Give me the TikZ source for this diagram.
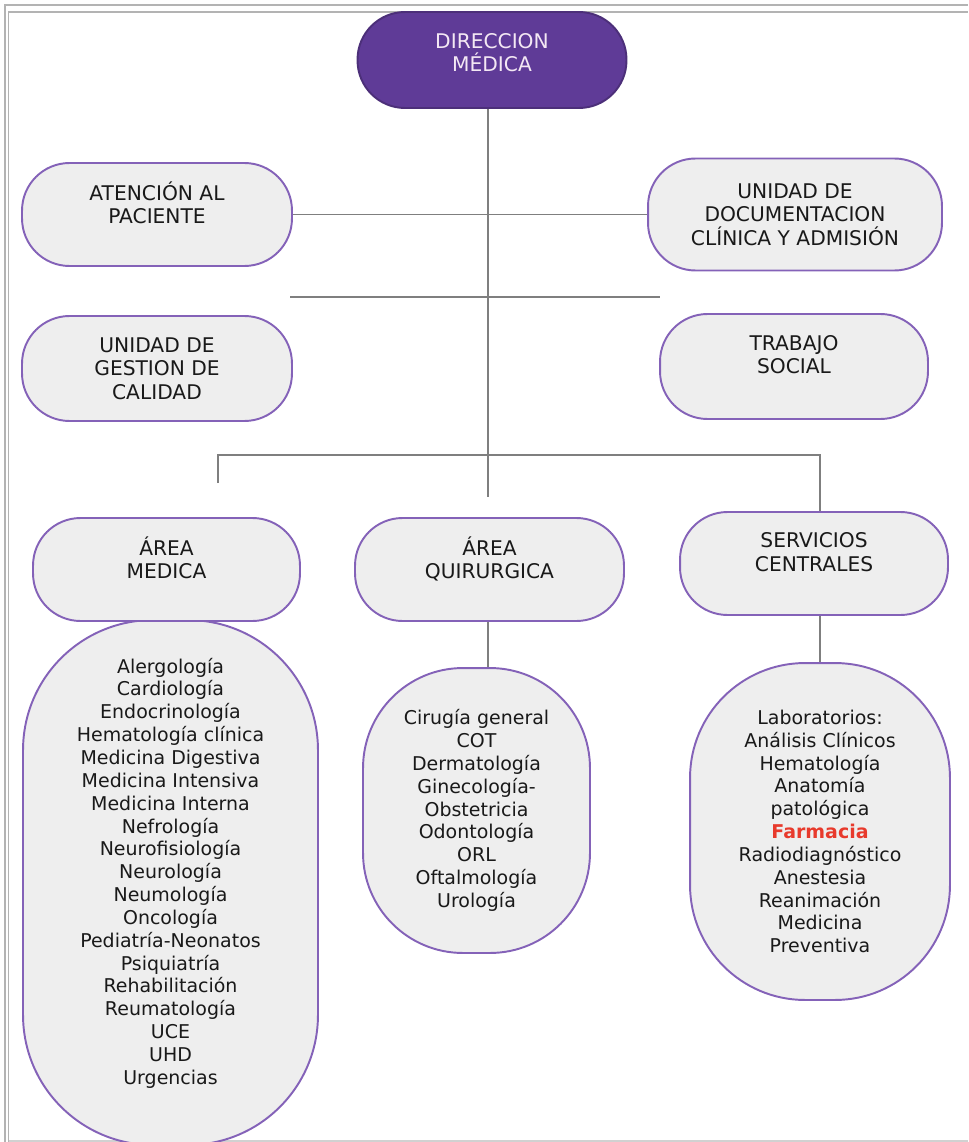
\documentclass[tikz,border=0pt]{standalone}
\usepackage{fontspec}
\setmainfont{DejaVu Sans}
\definecolor{boxline}{HTML}{8462B8}
\definecolor{boxfill}{HTML}{EEEEEE}
\definecolor{dirfill}{HTML}{5F3B97}
\definecolor{dirtext}{HTML}{F4E8F4}
\definecolor{linkgray}{HTML}{7F7F7F}
\definecolor{framegray}{HTML}{B3B3B3}
\definecolor{farmred}{HTML}{E83A2C}
\begin{document}
\begin{tikzpicture}[x=0.02cm, y=-0.02cm,
        unitbox/.style={draw=boxline, fill=boxfill, line width=1.1pt, rounded corners=0.95cm,
            align=center, inner sep=0pt, text=black!90, font=\fontsize{11.5}{13.5}\selectfont},
        listbox/.style={draw=boxline, fill=boxfill, line width=1.1pt,
            align=center, inner sep=0pt, text=black!90, font=\fontsize{10.8}{13}\selectfont},
        link/.style={draw=linkgray, line width=1.1pt}]
        \useasboundingbox (0,0) rectangle (968,1142);

        \coordinate (TL) at (290,297);
        \coordinate (TR) at (660,297);
        \coordinate (JL) at (218,455);
        \coordinate (JLs) at (218,483);
        \coordinate (JC) at (488,455);
        \coordinate (JCe) at (488,497);
        \coordinate (JR) at (820,455);

        \draw[framegray, line width=1.4pt] (5,1142) -- (5,5) -- (968,5);
        \draw[framegray, line width=0.6pt] (8.5,1142) -- (8.5,12) -- (968,12);
        \draw[framegray!60, line width=0.6pt] (8.5,1141) -- (968,1141);

        \node[unitbox, fill=dirfill, draw=dirfill!80!black, text=dirtext, rounded corners=0.95cm,
            minimum width=5.38cm, minimum height=1.92cm] (dir) at (492,60) {DIRECCION\\MÉDICA\\[-5pt]~};

        \node[unitbox, minimum width=5.4cm, minimum height=2.06cm] (aten) at (157,214.5) {ATENCIÓN AL\\PACIENTE\\~};
        \node[unitbox, minimum width=5.88cm, minimum height=2.24cm] (udoc) at (795,214.5) {UNIDAD DE\\DOCUMENTACION\\CLÍNICA Y ADMISIÓN};
        \node[unitbox, minimum width=5.4cm, minimum height=2.1cm] (ugc) at (157,368.5) {UNIDAD DE\\GESTION DE\\CALIDAD};
        \node[unitbox, minimum width=5.36cm, minimum height=2.1cm] (trab) at (794,366.5) {TRABAJO\\SOCIAL\\~};

        \begin{scope}
            \clip (0,0) rectangle (968,1142);
            \node[listbox, rounded corners=2.6cm, minimum width=5.9cm, minimum height=10.5cm] (lmed) at (170.5,882.5)
                {Alergología\\Cardiología\\Endocrinología\\Hematología clínica\\Medicina Digestiva\\Medicina Intensiva\\Medicina Interna\\Nefrología\\Neurofisiología\\Neurología\\Neumología\\Oncología\\Pediatría-Neonatos\\Psiquiatría\\Rehabilitación\\Reumatología\\UCE\\UHD\\Urgencias\\~};
        \end{scope}

        \node[unitbox, minimum width=5.34cm, minimum height=2.06cm] (amed) at (166.5,569.5) {ÁREA\\MEDICA\\~};
        \node[unitbox, minimum width=5.38cm, minimum height=2.06cm] (aqui) at (489.5,569.5) {ÁREA\\QUIRURGICA\\~};
        \node[unitbox, minimum width=5.36cm, minimum height=2.06cm] (serv) at (814,563.5) {SERVICIOS\\CENTRALES\\~};

        \node[listbox, rounded corners=2.0cm, minimum width=4.54cm, minimum height=5.7cm] (lqui) at (476.5,810.5)
            {Cirugía general\\COT\\Dermatología\\Ginecología-\\Obstetricia\\Odontología\\ORL\\Oftalmología\\Urología};
        \node[listbox, rounded corners=2.3cm, minimum width=5.2cm, minimum height=6.74cm] (lserv) at (820,831.5)
            {Laboratorios:\\Análisis Clínicos\\Hematología\\Anatomía\\patológica\\{\bfseries\color{farmred}Farmacia}\\Radiodiagnóstico\\Anestesia\\Reanimación\\Medicina\\Preventiva};

        \draw[link] (dir.south -| JC) -- (JCe);
        \draw[link] (aten.east) -- (udoc.west);
        \draw[link] (TL) -- (TR);
        \draw[link] (JLs) -- (JL) -- (JR) -- (serv.north -| JR);
        \draw[link] (aqui.south -| JC) -- (lqui.north -| JC);
        \draw[link] (serv.south -| JR) -- (lserv.north -| JR);
    \end{tikzpicture}
\end{document}
